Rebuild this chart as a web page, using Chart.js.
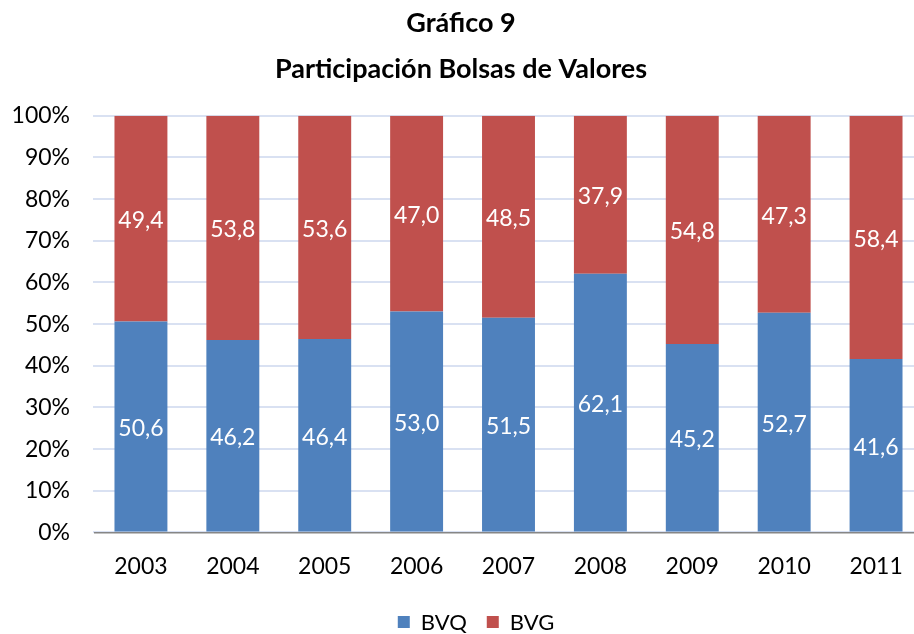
<!DOCTYPE html>
<html><head><meta charset="utf-8">
<script src="https://cdn.jsdelivr.net/npm/chart.js@4/dist/chart.umd.min.js"></script>
<style>html,body{margin:0;padding:0;overflow:hidden;background:#fff}#wrap{position:absolute;left:0;top:0;width:946px;height:634px}</style>
</head><body><div id="wrap"><canvas id="c" width="946" height="634"></canvas></div>
<script>
const years = ['2003','2004','2005','2006','2007','2008','2009','2010','2011'];
const bvq = [50.6,46.2,46.4,53.0,51.5,62.1,45.2,52.7,41.6];
const bvg = [49.4,53.8,53.6,47.0,48.5,37.9,54.8,47.3,58.4];
const yTicks = [0,10,20,30,40,50,60,70,80,90,100];
const FONT = 'Lato, "Open Sans", sans-serif';

const labelPlugin = {
  id:'barLabels',
  afterDatasetsDraw(chart){
    const ctx = chart.ctx;
    ctx.save();
    ctx.fillStyle = '#ffffff';
    ctx.font = '23px ' + FONT;
    ctx.textAlign = 'center';
    ctx.textBaseline = 'middle';
    chart.data.datasets.forEach((ds,i)=>{
      const meta = chart.getDatasetMeta(i);
      meta.data.forEach((bar,j)=>{
        const p = bar.getProps(['x','y','base'],true);
        const y = (p.y + p.base)/2 + 2;
        ctx.fillText(ds.data[j].toFixed(1).replace('.',','), p.x, y);
      });
    });
    ctx.restore();
  }
};

const legendPlugin = {
  id:'bottomLegend',
  afterDraw(chart){
    const ctx = chart.ctx;
    ctx.save();
    ctx.font = '22px ' + FONT;
    ctx.textBaseline = 'middle';
    const box = 12, gap = 11, between = 20, y = 622;
    const items = chart.data.datasets.map(ds=>({t:ds.label,c:ds.backgroundColor,w:ctx.measureText(ds.label).width}));
    let total = items.reduce((a,it)=>a+box+gap+it.w,0) + between*(items.length-1);
    let x = chart.width/2 + 3 - total/2;
    items.forEach(it=>{
      ctx.fillStyle = it.c;
      ctx.fillRect(x, y-box/2, box, box);
      ctx.fillStyle = '#000';
      ctx.fillText(it.t, x+box+gap, y+1);
      x += box+gap+it.w+between;
    });
    ctx.restore();
  }
};

new Chart(document.getElementById('c'),{
  type:'bar',
  data:{labels:years,datasets:[
    {label:'BVQ',data:bvq,backgroundColor:'#4F81BD',barPercentage:0.576,categoryPercentage:1},
    {label:'BVG',data:bvg,backgroundColor:'#C0504D',barPercentage:0.576,categoryPercentage:1}
  ]},
  options:{
    responsive:false,animation:false,
    layout:{padding:{left:0,right:24,top:0,bottom:42}},
    plugins:{
      title:{display:true,text:['Gráfico 9','Participación Bolsas de Valores'],color:'#000',
        font:{family:FONT,size:27,weight:'bold',lineHeight:1.7},padding:{top:0,bottom:24}},
      legend:{display:false},
      tooltip:{enabled:false}
    },
    scales:{
      x:{stacked:true,grid:{display:false},border:{color:'#868686',width:1.5},
        ticks:{color:'#000',font:{family:FONT,size:23},padding:12}},
      y:{stacked:true,min:0,max:100,
        afterBuildTicks(s){s.ticks = yTicks.map(v=>({value:v}));},
        afterFit(s){s.width = 95;},
        grid:{color:'#D9E1F2',lineWidth:2,tickColor:'#D9E1F2',tickLength:2,drawTicks:true},
        border:{display:false},
        ticks:{color:'#000',font:{family:FONT,size:23},padding:23,callback:v=>v+'%'}}
    }
  },
  plugins:[labelPlugin,legendPlugin]
});
</script></body></html>
